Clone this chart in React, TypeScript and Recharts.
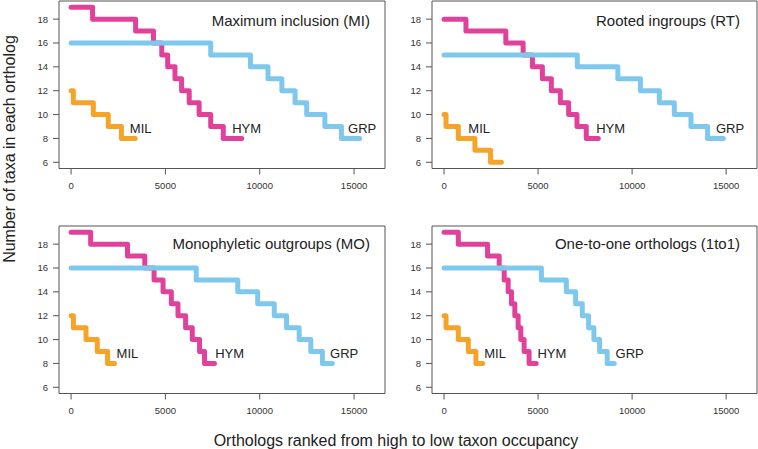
import React from 'react';
import { LineChart, Line, XAxis, YAxis, ReferenceArea, ReferenceDot } from 'recharts';

// ---- Data ----
const xTicks = [0, 5000, 10000, 15000];
const yTicks = [6, 8, 10, 12, 14, 16, 18];

// Panel MI
const miMilX = [0, 120, 1180, 1970, 2670, 3400];
const miMilY = [12, 11, 10, 9, 8, 8];
const miHymX = [0, 1140, 3420, 4367, 4806, 5122, 5508, 5859, 6262, 6788, 7402, 8068, 9050];
const miHymY = [19, 18, 17, 16, 15, 14, 13, 12, 11, 10, 9, 8, 8];
const miGrpX = [0, 7402, 9507, 10437, 11173, 11875, 12489, 13454, 14330, 15300];
const miGrpY = [16, 15, 14, 13, 12, 11, 10, 9, 8, 8];

// Panel RT
const rtMilX = [0, 106, 760, 1643, 2474, 3050];
const rtMilY = [10, 9, 8, 7, 6, 6];
const rtHymX = [0, 1166, 3286, 4205, 4700, 5230, 5707, 6184, 6626, 7068, 7563, 8200];
const rtHymY = [18, 17, 16, 15, 14, 13, 12, 11, 10, 9, 8, 8];
const rtGrpX = [0, 7086, 9241, 10443, 11450, 12245, 13129, 14012, 14850];
const rtGrpY = [15, 14, 13, 12, 11, 10, 9, 8, 8];

// Panel MO
const moMilX = [0, 123, 792, 1390, 1936, 2300];
const moMilY = [12, 11, 10, 9, 8, 8];
const moHymX = [0, 1038, 2992, 3907, 4400, 4875, 5315, 5667, 6072, 6424, 6811, 7075, 7600];
const moHymY = [19, 18, 17, 16, 15, 14, 13, 12, 11, 10, 9, 8, 8];
const moGrpX = [0, 6635, 8835, 9891, 10771, 11422, 12091, 12707, 13323, 13850];
const moGrpY = [16, 15, 14, 13, 12, 11, 10, 9, 8, 8];

// Panel 1to1
const ooMilX = [0, 106, 760, 1290, 1696, 2050];
const ooMilY = [12, 11, 10, 9, 8, 8];
const ooHymX = [0, 760, 2315, 2933, 3198, 3410, 3587, 3764, 3940, 4082, 4258, 4523, 4900];
const ooHymY = [19, 18, 17, 16, 15, 14, 13, 12, 11, 10, 9, 8, 8];
const ooGrpX = [0, 5177, 6502, 6997, 7351, 7686, 7969, 8270, 8676, 9050];
const ooGrpY = [16, 15, 14, 13, 12, 11, 10, 9, 8, 8];

const seriesNames = ['MIL', 'HYM', 'GRP'];
const miLabelX = [3115, 8540, 14680];
const rtLabelX = [1290, 8093, 14454];
const moLabelX = [2411, 7638, 13728];
const ooLabelX = [2138, 4965, 9118];
const labelY = 8.85;

const titles = ['Maximum inclusion (MI)', 'Rooted ingroups (RT)', 'Monophyletic outgroups (MO)', 'One-to-one orthologs (1to1)'];

const COLORS = ['#F5A329', '#E0419A', '#7EC8EE'];
const FONT = '"Liberation Sans", Arial, Helvetica, sans-serif';

const zip = (xs: number[], ys: number[]) => xs.map((x, i) => ({ x, y: ys[i] }));

type PanelProps = {
  left: number;
  top: number;
  width: number;
  marginRight: number;
  series: { x: number[]; y: number[] }[];
  labelXs: number[];
};

const XD: [number, number] = [-640, 16640];
const YD: [number, number] = [5.48, 19.52];

function Panel({ left, top, width, marginRight, series, labelXs }: PanelProps) {
  return (
    <div style={{ position: 'absolute', left, top }}>
      <LineChart width={width} height={200} margin={{ top: 1, right: marginRight, bottom: 0, left: 0 }}>
        <XAxis
          type="number"
          dataKey="x"
          domain={XD}
          ticks={xTicks}
          allowDataOverflow
          axisLine={false}
          tickSize={6}
          tickMargin={8}
          height={31.5}
          tickLine={{ stroke: '#555' }}
          tick={{ fontSize: 9.5, fill: '#333', fontFamily: FONT }}
          interval={0}
        />
        <YAxis
          type="number"
          domain={YD}
          ticks={yTicks}
          allowDataOverflow
          axisLine={false}
          tickSize={6}
          tickMargin={5}
          width={59}
          tickLine={{ stroke: '#555' }}
          tick={{ fontSize: 9.5, fill: '#333', fontFamily: FONT }}
          interval={0}
        />
        <ReferenceArea x1={XD[0]} x2={XD[1]} y1={YD[0]} y2={YD[1]} fill="none" stroke="#555" strokeWidth={1} fillOpacity={0} />
        {series.map((s, i) => (
          <Line
            key={i}
            data={zip(s.x, s.y)}
            dataKey="y"
            type="stepAfter"
            stroke={COLORS[i]}
            strokeWidth={5}
            dot={false}
            activeDot={false}
            strokeLinecap="round"
            strokeLinejoin="round"
            isAnimationActive={false}
          />
        ))}
        {labelXs.map((lx, i) => (
          <ReferenceDot
            key={'l' + i}
            x={lx}
            y={labelY}
            r={0}
            shape={(p: any) => (
              <text
                x={p.cx}
                y={p.cy}
                dominantBaseline="central"
                textAnchor="start"
                fontSize={13}
                fill="#222"
                fontFamily={FONT}
              >
                {seriesNames[i]}
              </text>
            )}
          />
        ))}
      </LineChart>
    </div>
  );
}

export default function App() {
  return (
    <div style={{ position: 'absolute', left: 0, top: 0, width: 758, height: 449, background: '#fff', overflow: 'hidden', fontFamily: FONT }}>
      <Panel left={0} top={0} width={390} marginRight={5}
        series={[{ x: miMilX, y: miMilY }, { x: miHymX, y: miHymY }, { x: miGrpX, y: miGrpY }]} labelXs={miLabelX} />
      <Panel left={373} top={0} width={385} marginRight={1}
        series={[{ x: rtMilX, y: rtMilY }, { x: rtHymX, y: rtHymY }, { x: rtGrpX, y: rtGrpY }]} labelXs={rtLabelX} />
      <Panel left={0} top={224.8} width={390} marginRight={5}
        series={[{ x: moMilX, y: moMilY }, { x: moHymX, y: moHymY }, { x: moGrpX, y: moGrpY }]} labelXs={moLabelX} />
      <Panel left={373} top={224.8} width={385} marginRight={1}
        series={[{ x: ooMilX, y: ooMilY }, { x: ooHymX, y: ooHymY }, { x: ooGrpX, y: ooGrpY }]} labelXs={ooLabelX} />
      <svg width={758} height={449} style={{ position: 'absolute', left: 0, top: 0, pointerEvents: 'none' }}>
        <g fontFamily={FONT} fill="#222">
          <text x={370} y={20} fontSize={15} textAnchor="end" dominantBaseline="central">{titles[0]}</text>
          <text x={740} y={20} fontSize={15} textAnchor="end" dominantBaseline="central">{titles[1]}</text>
          <text x={370} y={243.3} fontSize={15} textAnchor="end" dominantBaseline="central">{titles[2]}</text>
          <text x={740} y={243.3} fontSize={15} textAnchor="end" dominantBaseline="central">{titles[3]}</text>
          <text x={396} y={440} fontSize={16} textAnchor="middle" dominantBaseline="central">Orthologs ranked from high to low taxon occupancy</text>
          <text x={9} y={149} fontSize={16} textAnchor="middle" dominantBaseline="central" transform="rotate(-90 9 149)">Number of taxa in each ortholog</text>
        </g>
      </svg>
    </div>
  );
}
